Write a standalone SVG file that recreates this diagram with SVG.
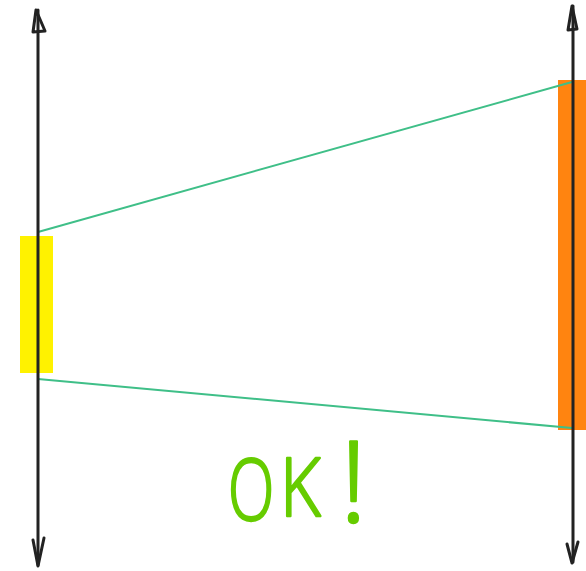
<svg xmlns="http://www.w3.org/2000/svg" width="586" height="571" viewBox="0 0 586 571">
<style>
.axis{stroke:#222;stroke-width:3;fill:none;stroke-linecap:round;stroke-linejoin:round}
.ray{stroke:#3fbf88;stroke-width:2;fill:none}
.ok{font-family:"Open Sans","DejaVu Sans",sans-serif;font-weight:300;fill:#66cc00;stroke:#66cc00;stroke-width:2.5;stroke-linejoin:round}
</style>
<rect width="586" height="571" fill="#fff"/>
<g id="object">
<rect x="20" y="236" width="33" height="137" fill="#fff200"/>
</g>
<g id="image">
<rect x="558" y="80" width="28" height="350" fill="#ff8410"/>
</g>
<g id="connectors">
<line class="ray" x1="38" y1="232" x2="572" y2="82"/>
<line class="ray" x1="38" y1="379" x2="572" y2="428"/>
</g>
<g id="left-axis">
<path class="axis" d="M38 565 L38 10"/>
<path class="axis" d="M36 10 L33 32 L45 31 Z"/>
<path class="axis" d="M33 540 L38 566 L44 538"/>
</g>
<g id="right-axis">
<path class="axis" d="M573 562 L573 6"/>
<path class="axis" d="M572 6 L568 30 L577 29 Z"/>
<path class="axis" d="M567 544 L572 563 L578 542"/>
</g>
<g id="label">
<text class="ok" font-size="84" transform="translate(228 520) scale(0.72 1)" x="0" y="0">O</text>
<text class="ok" font-size="82" transform="translate(280 516) scale(0.85 1)" x="0" y="0">K</text>
<text class="ok" font-size="112" x="340" y="522">!</text>
</g>
</svg>
